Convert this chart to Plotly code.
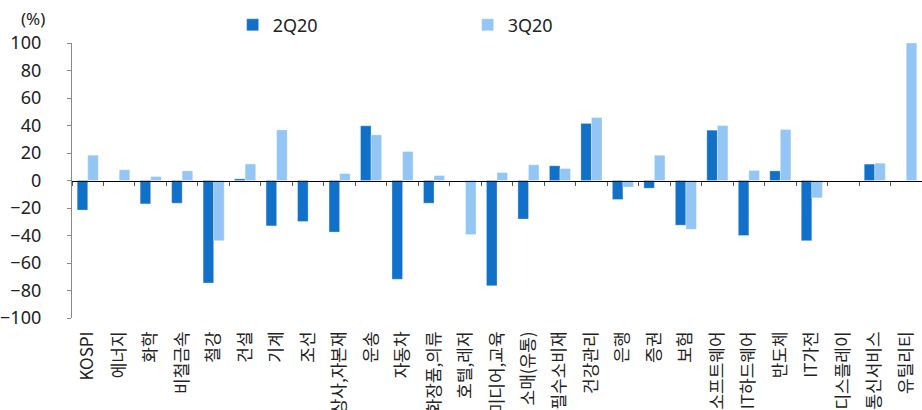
import plotly.graph_objects as go

# Sector labels along the x axis
sectors = [
    "KOSPI", "에너지", "화학", "비철금속", "철강", "건설", "기계", "조선",
    "상사,자본재", "운송", "자동차", "화장품,의류", "호텔,레저", "미디어,교육",
    "소매(유통)", "필수소비재", "건강관리", "은행", "증권", "보험",
    "소프트웨어", "IT하드웨어", "반도체", "IT가전", "디스플레이",
    "통신서비스", "유틸리티",
]

# Quarterly change (%) per sector; None where no value is shown
q2_2020 = [
    -21.5, None, -17.0, -16.5, -74.5, 1.2, -33.0, -29.8,
    -37.5, 39.8, -71.8, -16.5, None, -76.5,
    -28.0, 10.7, 41.5, -13.8, -5.6, -32.5,
    36.6, -40.0, 7.0, -43.8, None,
    11.9, None,
]
q3_2020 = [
    18.4, 7.8, 2.9, 7.0, -43.8, 12.0, 36.8, None,
    5.0, 33.2, 21.1, 3.6, -39.3, 5.8,
    11.4, 8.7, 45.8, -4.8, 18.4, -35.5,
    40.0, 7.3, 37.1, -12.6, None,
    12.6, 100.0,
]

y_ticks = [100, 80, 60, 40, 20, 0, -20, -40, -60, -80, -100]

DARK = "#1170c8"
LIGHT = "#94c6f5"
FONT_KR = "Noto Sans CJK KR"
FONT_NUM = "Noto Sans, Noto Sans CJK KR"

fig = go.Figure()
fig.add_trace(go.Bar(
    x=sectors, y=q2_2020, name="2Q20",
    marker=dict(color=DARK, line=dict(color="rgba(255,255,255,0.5)", width=0.6)),
))
fig.add_trace(go.Bar(
    x=sectors, y=q3_2020, name="3Q20",
    marker=dict(color=LIGHT, line=dict(color="rgba(255,255,255,0.5)", width=0.6)),
))
# Carrier for the baseline axis drawn at y = 0
fig.add_trace(go.Scatter(
    x=sectors, y=[0] * len(sectors), mode="none", xaxis="x2",
    showlegend=False, hoverinfo="skip",
))

fig.update_layout(
    width=922, height=410,
    margin=dict(l=72, r=0, t=43, b=91.5),
    paper_bgcolor="white", plot_bgcolor="white",
    font=dict(family=FONT_KR, color="#222222"),
    barmode="group", bargap=0.33, bargroupgap=0,
    showlegend=True,
    legend=dict(
        orientation="h", x=0.189, xanchor="left", y=1.065, yanchor="middle",
        font=dict(size=18, color="#222222", family=FONT_NUM),
        entrywidth=190, entrywidthmode="pixels",
        bgcolor="rgba(0,0,0,0)",
    ),
    xaxis=dict(
        type="category", showline=False, ticks="", showgrid=False,
        tickangle=-90, tickfont=dict(size=17, family=FONT_KR, color="#222222"),
        automargin=False, ticklabelstandoff=9,
    ),
    xaxis2=dict(
        type="category", overlaying="x", matches="x", anchor="free", position=0.5,
        showticklabels=False, showgrid=False, showline=True, linecolor="#000000",
        linewidth=1.3, ticks="outside", tickson="boundaries", ticklen=4,
        tickcolor="#555555", tickwidth=1.3, side="bottom",
    ),
    yaxis=dict(
        range=[-100, 100], tickvals=y_ticks, showgrid=False, zeroline=False,
        showline=True, linecolor="#8a8a8a", linewidth=1.3,
        ticks="outside", ticklen=4, tickcolor="#8a8a8a", tickwidth=1.3,
        tickfont=dict(size=18, family=FONT_NUM, color="#222222"),
        automargin=False, ticklabelstandoff=22,
    ),
    annotations=[dict(
        text="(%)", xref="paper", yref="paper", x=-0.046, y=1.09,
        xanchor="center", yanchor="middle", showarrow=False,
        font=dict(size=17, family=FONT_NUM, color="#222222"),
    )],
)

fig.write_html("out.html")
